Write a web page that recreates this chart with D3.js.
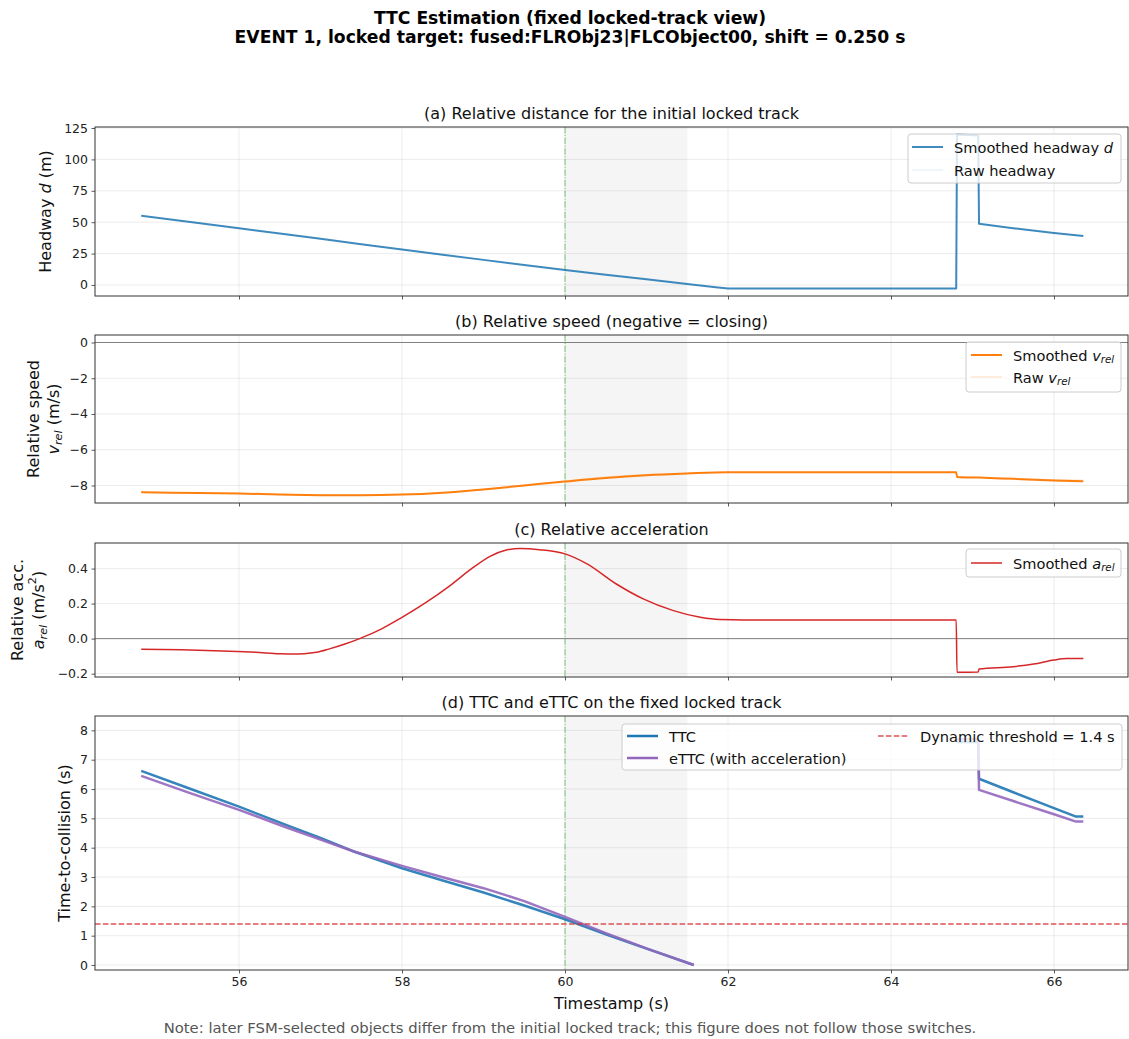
<!DOCTYPE html>
<html>
<head>
<meta charset="utf-8">
<script src="https://cdn.jsdelivr.net/npm/d3@7"></script>
<style>
  html, body { margin: 0; padding: 0; background: #fff; }
  svg { display: block; font-family: "DejaVu Sans", sans-serif; }
</style>
</head>
<body>
<svg id="chart" width="1129" height="1039"></svg>
<script>
// ---- data ----------------------------------------------------------
const xTicks = [56, 58, 60, 62, 64, 66];
const eventTime = 60.0;
const shadeSpan = [60.0, 61.5];

// (a) headway
const tHead = [54.8, 55.5, 56.0, 56.5, 57.0, 57.5, 58.0, 58.5, 59.0, 59.5, 60.0, 60.5, 61.0, 61.5, 61.85, 62.0, 64.8, 64.81, 65.07, 65.08, 65.5, 66.0, 66.36];
const headSmooth = [55.1, 49.3, 45.1, 41.0, 36.8, 32.5, 28.3, 24.1, 20.0, 16.0, 12.0, 8.2, 4.5, 0.8, -1.8, -2.8, -2.8, 119.8, 119.0, 48.7, 45.2, 41.4, 39.1];
const headRaw = [55.3, 49.2, 45.3, 40.8, 36.9, 32.4, 28.4, 24.0, 20.1, 15.9, 12.1, 8.1, 4.6, 0.7, -1.9, -2.8, -2.8, 119.8, 119.0, 48.7, 45.1, 41.5, 39.0];
const headTicks = [0, 25, 50, 75, 100, 125];

// (b) relative speed
const tVel = [54.8, 55.5, 56.0, 56.5, 57.0, 57.5, 58.0, 58.5, 59.0, 59.5, 60.0, 60.5, 61.0, 61.5, 62.0, 64.8, 64.81, 65.08, 65.5, 66.0, 66.36];
const velSmooth = [-8.38, -8.42, -8.45, -8.50, -8.54, -8.55, -8.51, -8.40, -8.22, -8.00, -7.78, -7.58, -7.43, -7.33, -7.26, -7.26, -7.52, -7.56, -7.63, -7.72, -7.77];
const velRaw = [-8.36, -8.43, -8.44, -8.51, -8.53, -8.56, -8.49, -8.41, -8.20, -7.98, -7.74, -7.52, -7.38, -7.31, -7.26, -7.26, -7.50, -7.55, -7.60, -7.68, -7.70];
const velTicks = [-8, -6, -4, -2, 0];

// (c) relative acceleration
const tAcc = [54.8, 55.3, 55.8, 56.2, 56.5, 56.65, 56.8, 56.95, 57.1, 57.3, 57.48, 57.75, 57.98, 58.3, 58.59, 58.87, 59.08, 59.28, 59.45, 59.69, 60.0, 60.27, 60.63, 60.96, 61.33, 61.66, 61.9, 62.2, 64.8, 64.81, 65.07, 65.08, 65.5, 65.75, 66.0, 66.16, 66.36];
const accSmooth = [-0.060, -0.064, -0.071, -0.078, -0.086, -0.088, -0.086, -0.078, -0.060, -0.031, 0.000, 0.056, 0.116, 0.208, 0.303, 0.405, 0.470, 0.506, 0.515, 0.508, 0.484, 0.427, 0.312, 0.227, 0.160, 0.122, 0.109, 0.107, 0.107, -0.192, -0.190, -0.173, -0.160, -0.145, -0.122, -0.114, -0.114];
const accTicks = [-0.2, 0.0, 0.2, 0.4];

// (d) TTC / eTTC (null = undefined, target behind / not closing)
const tTtc = [54.8, 55.4, 56.0, 56.6, 57.0, 57.4, 58.0, 58.5, 59.0, 59.5, 60.0, 60.5, 61.0, 61.58, 61.6, 64.81, 65.07, 65.08, 65.5, 66.0, 66.27, 66.36];
const ttc  = [6.62, 6.01, 5.40, 4.75, 4.33, 3.88, 3.30, 2.88, 2.47, 2.03, 1.56, 1.05, 0.56, 0.0, null, 7.6, 7.6, 6.35, 5.89, 5.35, 5.06, 5.06];
const ettc = [6.45, 5.86, 5.29, 4.67, 4.28, 3.88, 3.38, 2.99, 2.62, 2.18, 1.64, 1.09, 0.57, 0.0, null, 7.7, 7.7, 5.97, 5.59, 5.14, 4.89, 4.89];
const ttcTicks = [0, 1, 2, 3, 4, 5, 6, 7, 8];
const threshold = 1.4;

// ---- layout --------------------------------------------------------
const svg = d3.select("#chart");
const left = 95, right = 1128;
const x = d3.scaleLinear().domain([54.233, 66.908]).range([left, right]);
const C = { blue: "#1f77b4", orange: "#ff7f0e", red: "#d62728", purple: "#9467bd", green: "#2ca02c" };
const FS = { tick: 12.5, label: 16, title: 16, legend: 14.6, sup: 17.2, note: 14.8 };

const zip = (ts, vs) => ts.map((t, i) => ({ t, v: vs[i] }));

// text with italic / subscript / superscript runs; the baseline is restored on the next run
function rich(sel, parts, size) {
  let pending = 0;
  parts.forEach(p => {
    const ts = sel.append("tspan").text(p.t);
    let dy = pending;
    pending = 0;
    if (p.i) ts.attr("font-style", "italic");
    if (p.sub) { ts.attr("font-size", size * 0.7); dy += size * 0.3; pending = -size * 0.3; }
    if (p.sup) { ts.attr("font-size", size * 0.7); dy -= size * 0.4; pending = size * 0.4; }
    if (dy) ts.attr("dy", dy);
  });
  return sel;
}

function panel(cfg) {
  const y = d3.scaleLinear().domain(cfg.domain).range([cfg.bottom, cfg.top]);
  const g = svg.append("g");
  const clipId = "clip-" + cfg.id;
  svg.append("clipPath").attr("id", clipId)
    .append("rect").attr("x", left).attr("y", cfg.top).attr("width", right - left).attr("height", cfg.bottom - cfg.top);

  // grid
  const grid = g.append("g").attr("stroke", "#b0b0b0").attr("stroke-opacity", 0.3).attr("stroke-width", 0.8);
  xTicks.forEach(t => grid.append("line").attr("x1", x(t)).attr("x2", x(t)).attr("y1", cfg.top).attr("y2", cfg.bottom));
  cfg.ticks.forEach(t => grid.append("line").attr("x1", left).attr("x2", right).attr("y1", y(t)).attr("y2", y(t)));

  const plot = g.append("g").attr("clip-path", `url(#${clipId})`);
  // highlighted window and event marker
  plot.append("rect").attr("x", x(shadeSpan[0])).attr("width", x(shadeSpan[1]) - x(shadeSpan[0]))
    .attr("y", cfg.top).attr("height", cfg.bottom - cfg.top).attr("fill", "#808080").attr("fill-opacity", 0.08);
  plot.append("line").attr("x1", x(eventTime)).attr("x2", x(eventTime)).attr("y1", cfg.top).attr("y2", cfg.bottom)
    .attr("stroke", C.green).attr("stroke-opacity", 0.6).attr("stroke-width", 1)
    .attr("stroke-dasharray", "6.4,1.6,1,1.6");
  if (cfg.zero) {
    plot.append("line").attr("x1", left).attr("x2", right).attr("y1", y(0)).attr("y2", y(0))
      .attr("stroke", "#808080").attr("stroke-width", 1);
  }

  cfg.series.forEach(s => {
    const line = d3.line().defined(d => d.v != null).x(d => x(d.t)).y(d => y(d.v))
      .curve(s.curve || d3.curveLinear);
    plot.append("path").datum(s.data).attr("d", line).attr("fill", "none")
      .attr("stroke", s.color).attr("stroke-width", s.width).attr("stroke-opacity", s.opacity ?? 1)
      .attr("stroke-dasharray", s.dash || null).attr("stroke-linejoin", "round");
  });
  if (cfg.hline) {
    plot.append("line").attr("x1", left).attr("x2", right).attr("y1", y(cfg.hline.v)).attr("y2", y(cfg.hline.v))
      .attr("stroke", cfg.hline.color).attr("stroke-width", 1.5).attr("stroke-opacity", 0.8)
      .attr("stroke-dasharray", "5.5,2.4");
  }

  // axes
  const yAxis = d3.axisLeft(y).tickValues(cfg.ticks).tickSize(3.5).tickPadding(3.5).tickFormat(cfg.fmt);
  const ya = g.append("g").attr("transform", `translate(${left},0)`).call(yAxis);
  const xAxis = d3.axisBottom(x).tickValues(xTicks).tickSize(3.5).tickPadding(3.5)
    .tickFormat(cfg.xlabels ? d3.format("d") : "");
  const xa = g.append("g").attr("transform", `translate(0,${cfg.bottom})`).call(xAxis);
  [ya, xa].forEach(a => {
    a.select(".domain").remove();
    a.selectAll(".tick line").attr("stroke", "#333").attr("stroke-width", 0.8);
    a.selectAll(".tick text").attr("fill", "#222").attr("font-size", FS.tick).attr("font-family", "DejaVu Sans");
  });
  if (!cfg.xlabels) xa.selectAll(".tick text").remove();

  // frame
  g.append("rect").attr("x", left).attr("y", cfg.top).attr("width", right - left).attr("height", cfg.bottom - cfg.top)
    .attr("fill", "none").attr("stroke", "#333").attr("stroke-width", 1);

  // title
  g.append("text").attr("x", (left + right) / 2).attr("y", cfg.top - 8).attr("text-anchor", "middle")
    .attr("font-size", FS.title).attr("fill", "#111").text(cfg.title);

  // y label
  const cy = (cfg.top + cfg.bottom) / 2;
  cfg.ylabel.forEach(l => {
    const t = g.append("text").attr("transform", `translate(${l.x},${cy}) rotate(-90)`)
      .attr("text-anchor", "middle").attr("dominant-baseline", "central")
      .attr("font-size", FS.label).attr("fill", "#111");
    rich(t, l.parts, FS.label);
  });

  // legend
  if (cfg.legend) {
    const L = cfg.legend;
    const lg = g.append("g");
    lg.append("rect").attr("x", L.x).attr("y", L.y).attr("width", L.w).attr("height", L.h).attr("rx", 3)
      .attr("fill", "#fff").attr("fill-opacity", 0.8).attr("stroke", "#ccc").attr("stroke-width", 1);
    L.items.forEach(it => {
      lg.append("line").attr("x1", it.hx).attr("x2", it.hx + 31).attr("y1", it.y).attr("y2", it.y)
        .attr("stroke", it.color).attr("stroke-width", it.width).attr("stroke-opacity", it.opacity ?? 1)
        .attr("stroke-dasharray", it.dash || null);
      const t = lg.append("text").attr("x", it.hx + 42).attr("y", it.y).attr("dominant-baseline", "central")
        .attr("font-size", FS.legend).attr("fill", "#111");
      rich(t, it.parts, FS.legend);
    });
  }
  return y;
}

// (a)
panel({
  id: "a", top: 127, bottom: 296, domain: [-8.76, 125.8], ticks: headTicks, fmt: d3.format("d"),
  title: "(a) Relative distance for the initial locked track",
  ylabel: [{ x: 45, parts: [{ t: "Headway " }, { t: "d", i: true }, { t: " (m)" }] }],
  series: [
    { data: zip(tHead, headRaw), color: C.blue, width: 1, opacity: 0.12 },
    { data: zip(tHead, headSmooth), color: C.blue, width: 2, opacity: 0.85 }
  ],
  legend: { x: 908, y: 134, w: 213, h: 49, items: [
    { hx: 912, y: 147, color: C.blue, width: 2, opacity: 0.85, parts: [{ t: "Smoothed headway " }, { t: "d", i: true }] },
    { hx: 912, y: 170, color: C.blue, width: 1.2, opacity: 0.12, parts: [{ t: "Raw headway" }] }
  ] }
});

// (b)
panel({
  id: "b", top: 335, bottom: 503, domain: [-8.98, 0.42], ticks: velTicks, fmt: d3.format("d"), zero: true,
  title: "(b) Relative speed (negative = closing)",
  ylabel: [
    { x: 33, parts: [{ t: "Relative speed" }] },
    { x: 53, parts: [{ t: "v", i: true }, { t: "rel", i: true, sub: true }, { t: " (m/s)" }] }
  ],
  series: [
    { data: zip(tVel, velRaw), color: C.orange, width: 1, opacity: 0.25, curve: d3.curveMonotoneX },
    { data: zip(tVel, velSmooth), color: C.orange, width: 2, curve: d3.curveMonotoneX }
  ],
  legend: { x: 966, y: 342, w: 155, h: 50, items: [
    { hx: 971, y: 355, color: C.orange, width: 2, parts: [{ t: "Smoothed " }, { t: "v", i: true }, { t: "rel", i: true, sub: true }] },
    { hx: 971, y: 377, color: C.orange, width: 1.2, opacity: 0.25, parts: [{ t: "Raw " }, { t: "v", i: true }, { t: "rel", i: true, sub: true }] }
  ] }
});

// (c)
panel({
  id: "c", top: 543, bottom: 677, domain: [-0.219, 0.546], ticks: accTicks, fmt: d3.format(".1f"), zero: true,
  title: "(c) Relative acceleration",
  ylabel: [
    { x: 17, parts: [{ t: "Relative acc." }] },
    { x: 38, parts: [{ t: "a", i: true }, { t: "rel", i: true, sub: true }, { t: " (m/s" }, { t: "2", sup: true }, { t: ")" }] }
  ],
  series: [
    { data: zip(tAcc, accSmooth), color: C.red, width: 1.5, curve: d3.curveMonotoneX }
  ],
  legend: { x: 966, y: 549, w: 155, h: 28, items: [
    { hx: 971, y: 563, color: C.red, width: 1.5, parts: [{ t: "Smoothed " }, { t: "a", i: true }, { t: "rel", i: true, sub: true }] }
  ] }
});

// (d)
panel({
  id: "d", top: 716, bottom: 970, domain: [-0.17, 8.49], ticks: ttcTicks, fmt: d3.format("d"), xlabels: true,
  title: "(d) TTC and eTTC on the fixed locked track",
  ylabel: [{ x: 64, parts: [{ t: "Time-to-collision (s)" }] }],
  series: [
    { data: zip(tTtc, ttc), color: C.blue, width: 2.5, opacity: 0.9 },
    { data: zip(tTtc, ettc), color: C.purple, width: 2.5, opacity: 0.9 }
  ],
  hline: { v: threshold, color: C.red },
  legend: { x: 622, y: 724, w: 500, h: 46, items: [
    { hx: 627, y: 736, color: C.blue, width: 2.5, parts: [{ t: "TTC" }] },
    { hx: 627, y: 758, color: C.purple, width: 2.5, parts: [{ t: "eTTC (with acceleration)" }] },
    { hx: 878, y: 736, color: C.red, width: 1.5, opacity: 0.8, dash: "5.5,2.4", parts: [{ t: "Dynamic threshold = " + threshold + " s" }] }
  ] }
});

// figure-level text
const sup = svg.append("g").attr("font-weight", "bold").attr("font-size", FS.sup).attr("fill", "#000").attr("text-anchor", "middle");
sup.append("text").attr("x", 570).attr("y", 24).text("TTC Estimation (fixed locked-track view)");
sup.append("text").attr("x", 570).attr("y", 43).text("EVENT 1, locked target: fused:FLRObj23|FLCObject00, shift = 0.250 s");

svg.append("text").attr("x", (left + right) / 2).attr("y", 1009).attr("text-anchor", "middle")
  .attr("font-size", FS.label).attr("fill", "#111").text("Timestamp (s)");
svg.append("text").attr("x", 570).attr("y", 1033).attr("text-anchor", "middle")
  .attr("font-size", FS.note).attr("fill", "#555")
  .text("Note: later FSM-selected objects differ from the initial locked track; this figure does not follow those switches.");
</script>
</body>
</html>
